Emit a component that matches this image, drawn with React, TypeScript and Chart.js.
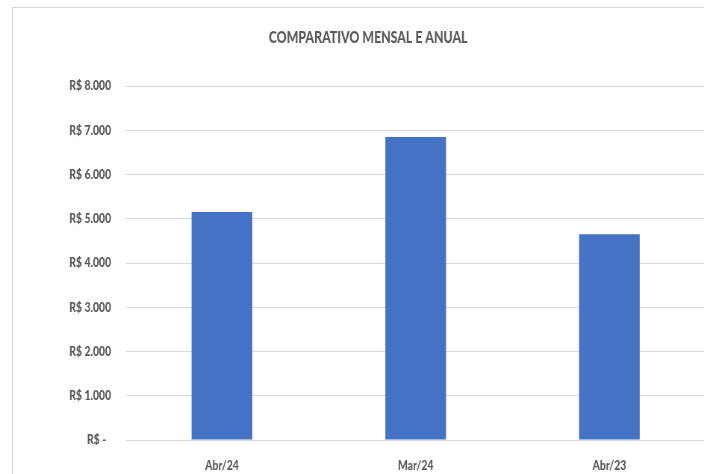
import React, { useEffect, useRef } from "react";
import { Chart, registerables } from "chart.js";

Chart.register(...registerables);

const title = "COMPARATIVO MENSAL E ANUAL";
const categories = ["Abr/24", "Mar/24", "Abr/23"];
const values = [5150, 6850, 4650];
const yTickLabels = [
  "R$ -  ",
  "R$ 1.000",
  "R$ 2.000",
  "R$ 3.000",
  "R$ 4.000",
  "R$ 5.000",
  "R$ 6.000",
  "R$ 7.000",
  "R$ 8.000",
];

// horizontal squeeze (internal px per css px) to mimic the condensed look
const SX = 1.34;
const CSS_W = 710;
const CSS_H = 474;

export default function App() {
  const ref = useRef<HTMLCanvasElement>(null);

  useEffect(() => {
    const canvas = ref.current!;
    canvas.width = Math.round(CSS_W * SX);
    canvas.height = CSS_H;
    canvas.style.width = CSS_W + "px";
    canvas.style.height = CSS_H + "px";

    const textColor = "#595959";
    const family = "Lato, 'Open Sans', sans-serif";
    const tickSize = 13.9;
    const titleSize = 16.5;

    const chart = new Chart(canvas, {
      type: "bar",
      data: {
        labels: categories,
        datasets: [
          {
            data: values,
            backgroundColor: "#4472C4",
            borderWidth: 0,
            categoryPercentage: 1,
            barPercentage: 0.313,
          },
        ],
      },
      options: {
        responsive: false,
        devicePixelRatio: 1,
        animation: false,
        layout: { padding: { left: 40, right: 5, top: 0, bottom: 0 } },
        plugins: {
          legend: { display: false },
          tooltip: { enabled: false },
          title: {
            display: true,
            text: title,
            color: textColor,
            font: { family, size: titleSize, weight: "900" },
            padding: { top: 28.1, bottom: 38.1 },
          },
        },
        scales: {
          x: {
            grid: { display: false, drawTicks: false, tickLength: 0 },
            border: { display: false },
            ticks: {
              color: textColor,
              font: { family, size: tickSize, weight: "900" },
              padding: 16.7,
              maxRotation: 0,
            },
            afterFit: (scale: any) => {
              scale.height = 34;
            },
          },
          y: {
            min: 0,
            max: 8000,
            grid: { color: "#d9d9d9", lineWidth: 1, drawTicks: false },
            border: { display: false },
            ticks: {
              stepSize: 1000,
              color: textColor,
              font: { family, size: tickSize, weight: "900" },
              padding: 18.8,
              callback: (_v: any, i: number) => yTickLabels[i],
            },
            afterFit: (scale: any) => {
              scale.width = 127.5;
            },
          },
        },
      },
    });
    return () => chart.destroy();
  }, []);

  return (
    <div
      style={{
        position: "fixed",
        left: 0,
        top: 0,
        width: 704,
        height: 474,
        overflow: "hidden",
        background: "#ffffff",
      }}
    >
      <div
        style={{
          position: "absolute",
          left: 12,
          top: 7,
          width: 720,
          height: 500,
          border: "1px solid #d9d9d9",
        }}
      />
      <canvas ref={ref} style={{ position: "absolute", left: 0, top: 0 }} />
    </div>
  );
}
